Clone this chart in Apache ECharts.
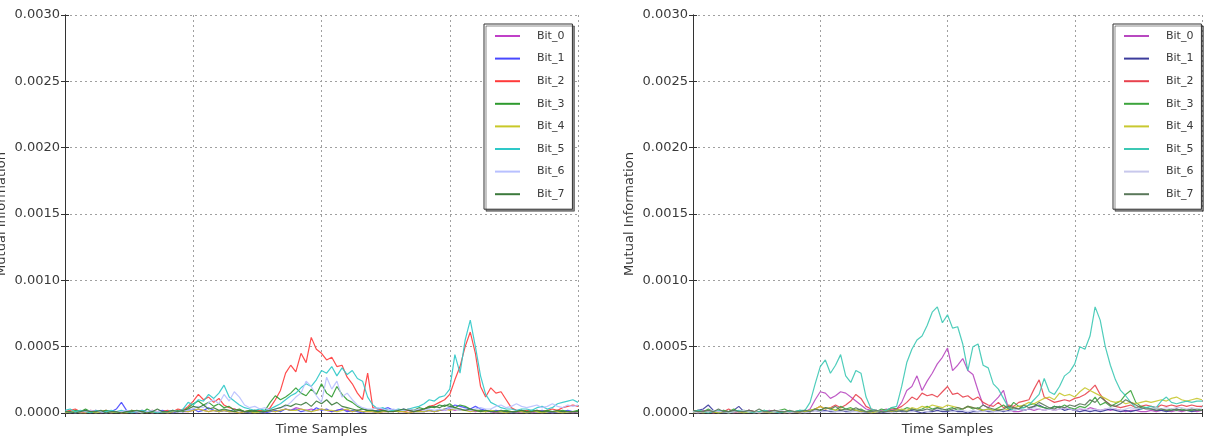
<!DOCTYPE html>
<html>
<head>
<meta charset="utf-8">
<script src="https://cdn.jsdelivr.net/npm/echarts@6/dist/echarts.min.js"></script>
<style>
  html, body { margin: 0; background: #fff; }
  #left, #right { position: absolute; top: 0; height: 444px; }
  #left { left: 0; width: 600px; }
  #right { left: 600px; width: 611px; }
</style>
</head>
<body>
<div id="left"></div>
<div id="right"></div>
<script>
// values are in units of 1e-5 (mutual information), one per time-sample step
const SCALE = 1e-5
const names = ['Bit_0', 'Bit_1', 'Bit_2', 'Bit_3', 'Bit_4', 'Bit_5', 'Bit_6', 'Bit_7']
const yTicks = [0, 0.0005, 0.001, 0.0015, 0.002, 0.0025, 0.003]

// left panel
const leftBit0 = [1,0,1,0,1,1,2,0,1,0, 1,0,1,1,0,2,1,0,1,1, 0,1,2,1,1,2,3,2,1,2, 1,2,1,1,0,1,1,2,1,1, 2,1,2,3,2,4,3,2,3,2, 3,2,1,2,3,2,1,2,1,1, 1,0,1,1,2,1,1,0,1,2, 1,2,1,2,2,3,2,3,2,2, 1,2,1,1,0,1,1,1,0,1, 1,0,1,1,1,0,1,1,1,0,1]
const leftBit1 = [0,1,0,1,2,1,0,1,0,1, 3,8,2,1,0,1,1,0,1,2, 1,0,1,1,2,3,1,2,4,2, 1,2,1,3,2,1,0,1,1,0, 1,2,1,3,2,3,1,2,1,4, 2,3,1,2,3,1,2,1,0,2, 1,2,3,4,2,1,3,2,1,1, 1,2,1,2,3,4,6,5,4,3, 5,3,2,1,2,1,1,0,1,1, 0,1,1,2,1,0,1,1,2,1,1]
const leftBit2 = [1,2,3,1,0,2,1,1,2,1, 1,0,1,2,1,1,0,2,1,1, 2,1,3,2,5,9,14,10,12,8, 11,6,4,3,2,1,2,1,2,1, 4,10,17,30,36,31,45,38,57,48, 45,40,42,35,36,27,22,15,10,30, 4,3,2,2,1,2,1,2,1,2, 3,5,6,8,10,14,25,35,50,61, 45,20,12,19,15,16,10,4,2,1, 2,1,2,1,2,3,2,4,5,6,5]
const leftBit3 = [1,0,2,1,3,1,0,1,2,1, 0,1,1,2,1,0,3,1,1,0, 1,1,2,1,4,7,9,6,8,5, 7,4,5,2,3,1,2,1,1,2, 8,13,10,12,15,19,15,13,18,14, 22,15,12,20,14,10,8,5,3,2, 2,1,2,1,2,1,2,3,2,4, 3,5,4,6,5,7,4,6,5,3, 2,2,1,2,1,1,2,1,1,2, 1,2,1,1,2,1,1,2,1,1,2]
const leftBit4 = [0,1,1,0,0,1,0,1,1,0, 1,0,0,1,1,0,1,0,1,1, 0,1,1,2,1,2,3,2,1,2, 1,2,1,1,0,1,1,0,1,1, 2,1,2,3,2,2,3,2,1,2, 3,2,2,1,2,3,1,2,1,1, 1,0,1,1,2,1,1,0,1,1, 1,2,1,2,3,2,3,2,2,1, 2,1,1,2,1,1,0,1,1,1, 0,1,1,0,1,1,1,0,1,1,1]
const leftBit5 = [2,3,1,2,1,0,2,1,1,2, 1,2,1,0,1,2,1,1,0,1, 1,2,1,3,8,6,10,9,14,11, 15,21,12,9,6,4,3,2,3,2, 3,5,7,10,13,15,19,22,20,25, 32,30,35,28,34,29,32,26,24,12, 6,3,4,2,2,3,2,3,4,5, 7,10,9,12,13,18,44,30,55,70, 50,28,14,8,6,4,3,3,2,3, 3,2,4,5,3,4,7,8,9,10,8]
const leftBit6 = [1,1,0,1,1,2,1,1,0,1, 1,1,2,1,1,0,1,2,1,1, 1,2,1,2,2,3,5,4,8,10, 7,14,9,16,12,6,4,5,3,4, 2,3,4,5,8,12,15,24,20,13, 8,27,18,24,12,15,10,6,4,3, 3,4,3,2,3,2,2,3,2,3, 2,3,2,3,2,4,3,2,3,2, 3,4,3,3,5,6,4,5,7,5, 4,5,6,4,5,7,5,4,6,5,6]
const leftBit7 = [1,1,0,1,2,1,1,2,0,1, 1,0,1,1,2,1,0,1,3,1, 1,2,1,2,3,5,4,6,3,4, 2,3,2,1,2,1,1,2,1,1, 2,3,4,6,5,7,6,8,5,9, 7,10,6,8,5,4,3,2,3,2, 2,1,2,1,1,2,3,2,1,2, 3,4,5,4,6,5,4,3,2,3, 2,1,2,1,1,2,1,1,1,2, 1,1,2,1,1,1,2,1,1,1,1]

// right panel
const rightBit0 = [1,0,2,1,0,1,2,1,0,1, 1,2,0,1,1,2,1,0,1,1, 1,0,1,3,10,16,15,11,13,16, 15,12,9,6,3,2,1,2,3,2, 3,8,17,20,28,17,24,30,37,42, 49,32,36,41,32,29,17,6,4,8, 12,17,3,1,1,2,3,2,3,2, 3,2,3,4,3,2,3,2,4,3, 2,3,2,3,2,1,2,2,1,1, 2,1,2,2,1,2,1,2,2,1,2]
const rightBit1 = [1,2,3,6,2,1,0,1,2,5, 1,2,1,0,1,1,2,1,0,1, 1,0,1,1,2,1,2,1,1,2, 1,1,2,1,0,1,1,0,1,1, 2,1,1,2,1,0,1,1,2,1, 1,2,1,1,0,1,1,2,1,1, 2,1,2,4,3,2,3,5,6,4, 3,5,4,2,3,2,1,2,1,2, 1,2,3,2,1,2,1,2,3,4, 3,2,2,1,2,3,2,2,1,2,2]
const rightBit2 = [2,1,1,2,0,1,1,3,1,1, 1,2,1,0,1,1,2,1,1,0, 1,1,2,1,3,5,3,4,6,4, 6,9,14,11,5,3,2,1,2,3, 3,5,8,12,10,15,13,14,12,16, 20,14,15,12,13,10,12,8,6,5, 8,4,6,5,8,9,10,18,25,12, 10,8,9,10,9,11,12,14,17,21, 14,9,6,5,4,5,6,4,5,6, 5,4,6,5,6,5,6,5,6,5,5]
const rightBit3 = [1,2,1,3,1,0,2,1,3,1, 2,1,0,1,2,1,1,2,3,1, 1,2,1,2,3,2,4,3,2,5, 3,4,2,3,1,2,1,3,2,4, 3,2,4,3,2,3,5,3,4,2, 3,4,2,3,5,3,4,2,3,2, 4,6,3,8,5,4,6,7,5,4, 3,5,4,6,4,3,5,4,7,12, 6,8,5,7,9,14,17,8,5,4, 3,4,3,2,3,2,3,2,2,3,2]
const rightBit4 = [0,1,0,1,1,0,1,0,1,1, 0,1,1,0,1,0,1,1,0,1, 1,0,1,2,3,5,3,4,2,3, 2,3,2,1,1,0,1,1,2,1, 2,3,2,4,3,5,4,6,5,4, 6,5,4,3,5,4,3,2,3,2, 3,2,3,4,5,6,8,7,9,11, 12,10,15,13,14,12,16,19,17,15, 13,11,9,8,9,7,8,7,8,9, 8,9,10,9,11,12,10,9,10,11,10]
const rightBit5 = [1,2,1,0,1,2,1,0,1,2, 1,1,0,1,2,1,1,0,1,1, 1,2,2,8,22,35,40,30,36,44, 28,23,32,30,12,3,2,1,2,4, 5,20,38,48,55,58,66,76,80,68, 74,64,65,52,32,50,52,36,34,22, 18,11,4,2,3,4,6,10,14,26, 16,14,20,28,31,37,50,48,58,80, 70,50,36,25,17,13,8,4,3,4, 5,4,9,12,8,7,8,9,8,9,9]
const rightBit6 = [1,0,1,1,2,1,1,0,1,1, 2,1,1,0,1,1,1,2,1,0, 1,1,0,1,2,1,1,2,1,1, 2,1,1,0,1,1,2,1,1,0, 1,2,1,1,2,2,1,2,3,2, 2,1,2,2,1,2,1,1,2,1, 1,2,1,2,3,2,3,4,3,2, 3,2,3,4,3,2,3,3,2,3, 2,3,4,3,2,3,4,3,4,3, 3,4,3,4,3,4,4,3,4,3,4]
const rightBit7 = [2,1,1,2,1,3,1,1,2,1, 1,2,1,3,1,1,2,1,1,2, 1,1,2,1,3,2,4,3,5,2, 3,2,4,2,1,1,2,1,1,2, 1,2,1,3,2,2,3,2,4,3, 2,3,4,3,5,4,3,6,4,3, 2,3,5,4,3,6,4,5,8,6, 4,3,5,4,6,5,7,6,10,8, 12,9,6,5,7,10,8,6,4,3, 3,2,3,2,2,3,2,2,3,2,2]

const leftColors = ['#c040c8', '#4848ff', '#ff3a3a', '#2e9a2e', '#c8c828', '#2ec8c8', '#b8c0ff', '#3c7a3c']
const rightColors = ['#b848c0', '#3c3c9c', '#e8424e', '#3ca43c', '#c8c830', '#3cc8b4', '#c8c8ec', '#5a785a']

const FONT = 'DejaVu Sans'
const TEXT = '#3a3a3a'

function build(sets, colors, gridLeft, gridWidth, legendLeft) {
  const steps = sets[0].length - 1
  const frame = { show: true, lineStyle: { color: '#333', width: 1 } }
  const tick = { show: true, inside: true, length: 4, lineStyle: { color: '#333' } }
  const grid = { type: [2, 3], color: '#a0a0a0', width: 1 }
  const xBase = { type: 'value', min: 0, max: steps, interval: steps / 4, axisLine: frame, axisTick: tick, axisLabel: { show: false } }
  const yBase = { type: 'value', min: 0, max: yTicks[yTicks.length - 1], interval: yTicks[1], axisLine: frame, axisTick: tick }
  return {
    animation: false,
    grid: { left: gridLeft, top: 15, width: gridWidth, height: 398, containLabel: false, outerBoundsMode: 'none' },
    xAxis: [
      Object.assign({}, xBase, {
        position: 'bottom', name: 'Time Samples', nameLocation: 'middle', nameGap: 10, nameMoveOverlap: false,
        nameTextStyle: { fontFamily: FONT, fontSize: 13, color: TEXT, verticalAlign: 'top' },
        splitLine: { show: true, lineStyle: grid }
      }),
      Object.assign({}, xBase, { position: 'top', splitLine: { show: false } })
    ],
    yAxis: [
      Object.assign({}, yBase, {
        position: 'left', name: 'Mutual Information', nameLocation: 'middle', nameGap: 57, nameMoveOverlap: false,
        nameTextStyle: { fontFamily: FONT, fontSize: 13, color: TEXT },
        axisLabel: { fontFamily: FONT, fontSize: 13, color: TEXT, margin: 5, formatter: v => v.toFixed(4) },
        splitLine: { show: true, lineStyle: grid }
      }),
      Object.assign({}, yBase, { position: 'right', axisLabel: { show: false }, splitLine: { show: false } })
    ],
    legend: {
      orient: 'vertical', left: legendLeft, top: 24,
      padding: [5, 8, 8, 11], itemGap: 8.6,
      itemWidth: 25, itemHeight: 2, icon: 'rect',
      backgroundColor: '#fff', borderColor: '#333', borderWidth: 1,
      shadowColor: 'rgba(0,0,0,0.45)', shadowOffsetX: 2, shadowOffsetY: 2, shadowBlur: 0,
      textStyle: { fontFamily: FONT, fontSize: 11, color: TEXT, lineHeight: 14, padding: [0, 0, 0, 12] },
      data: names
    },
    series: names.map((n, k) => ({
      name: n, type: 'line', symbol: 'none', showSymbol: false,
      xAxisIndex: 0, yAxisIndex: 0,
      data: sets[k].map((v, i) => [i, v * SCALE]),
      lineStyle: { width: 1.2, color: colors[k], opacity: 0.9 },
      itemStyle: { color: colors[k] }
    }))
  }
}

const leftChart = echarts.init(document.getElementById('left'), null, { renderer: 'canvas' })
leftChart.setOption(build(
  [leftBit0, leftBit1, leftBit2, leftBit3, leftBit4, leftBit5, leftBit6, leftBit7],
  leftColors, 65, 513, 484))

const rightChart = echarts.init(document.getElementById('right'), null, { renderer: 'canvas' })
rightChart.setOption(build(
  [rightBit0, rightBit1, rightBit2, rightBit3, rightBit4, rightBit5, rightBit6, rightBit7],
  rightColors, 93, 509, 513))
</script>
</body>
</html>
